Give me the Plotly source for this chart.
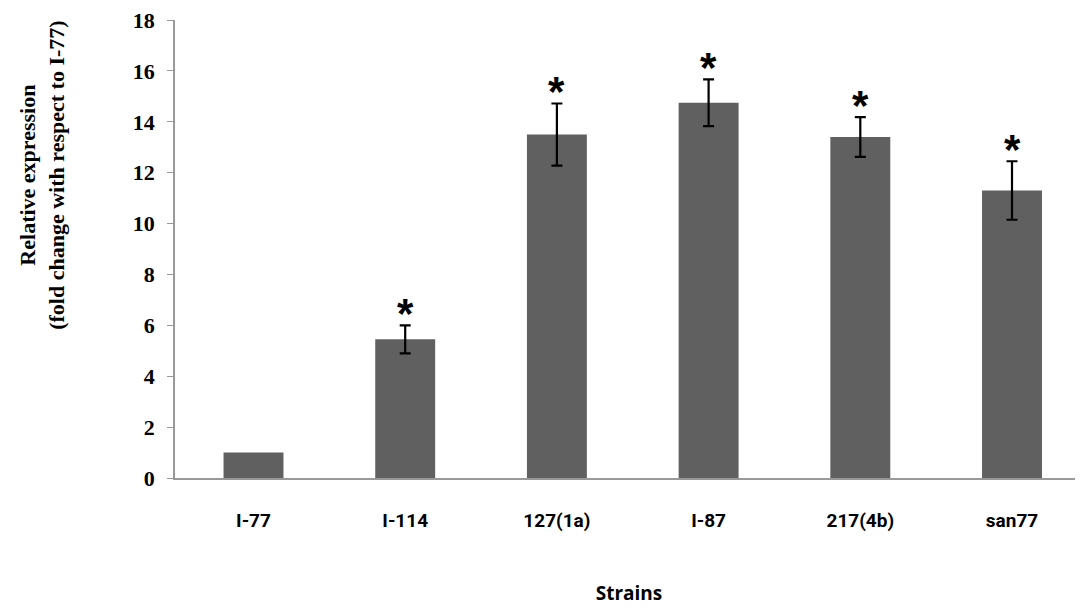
import plotly.graph_objects as go

strains = ["I-77", "I-114", "127(1a)", "I-87", "217(4b)", "san77"]
expression = [1.0, 5.45, 13.5, 14.75, 13.4, 11.3]
errors = [0.0, 0.55, 1.22, 0.92, 0.78, 1.15]
significant = [False, True, True, True, True, True]
y_ticks = [0, 2, 4, 6, 8, 10, 12, 14, 16, 18]

fig = go.Figure()
fig.add_trace(go.Bar(
    x=strains, y=expression,
    width=0.395,
    marker=dict(color="#606060", line=dict(width=0)),
    showlegend=False, hoverinfo="x+y",
))

# error bars only where an error exists
err_x = [s for s, e in zip(strains, errors) if e > 0]
err_y = [v for v, e in zip(expression, errors) if e > 0]
err_e = [e for e in errors if e > 0]
fig.add_trace(go.Scatter(
    x=err_x, y=err_y, mode="markers",
    marker=dict(size=0.1, color="rgba(0,0,0,0)"),
    error_y=dict(type="data", array=err_e, visible=True,
                 color="black", thickness=2.2, width=5.5),
    showlegend=False,
))

for s, v, e, sig in zip(strains, expression, errors, significant):
    if sig:
        fig.add_annotation(x=s, y=v + e, xref="x", yref="y",
                           text="<b>*</b>", showarrow=False,
                           yanchor="bottom", yshift=-14,
                           font=dict(family="Liberation Sans", size=42, color="black"))

fig.add_annotation(
    xref="paper", yref="paper", x=-0.1465, y=0.662,
    text="<b>Relative expression<br>(fold change with respect to I-77)</b>",
    textangle=-90, showarrow=False, xanchor="center", yanchor="middle",
    font=dict(family="Liberation Serif", size=22, color="black"),
)

fig.update_layout(
    width=1075, height=604,
    margin=dict(l=167, r=0, t=3, b=134),
    paper_bgcolor="white", plot_bgcolor="white",
    xaxis=dict(
        range=[-0.5175, 5.468], showline=True, linecolor="#999999", linewidth=1.5,
        showgrid=False, ticks="", ticklabelstandoff=24,
        tickfont=dict(family="Roboto", size=19, color="black", weight="bold"),
        title=dict(text="<b>Strains</b>", standoff=56,
                   font=dict(family="Open Sans", size=19, color="black")),
    ),
    yaxis=dict(
        range=[0, 18.001], tickvals=y_ticks, showline=True, linecolor="#999999", linewidth=1.5,
        showgrid=False, zeroline=False, ticks="outside", ticklen=6, tickcolor="#999999",
        tickfont=dict(family="Liberation Serif", size=22, color="black", weight="bold"),
        ticklabelstandoff=8, ticklabeloverflow="allow",
    ),
)

fig.write_html("out.html")
